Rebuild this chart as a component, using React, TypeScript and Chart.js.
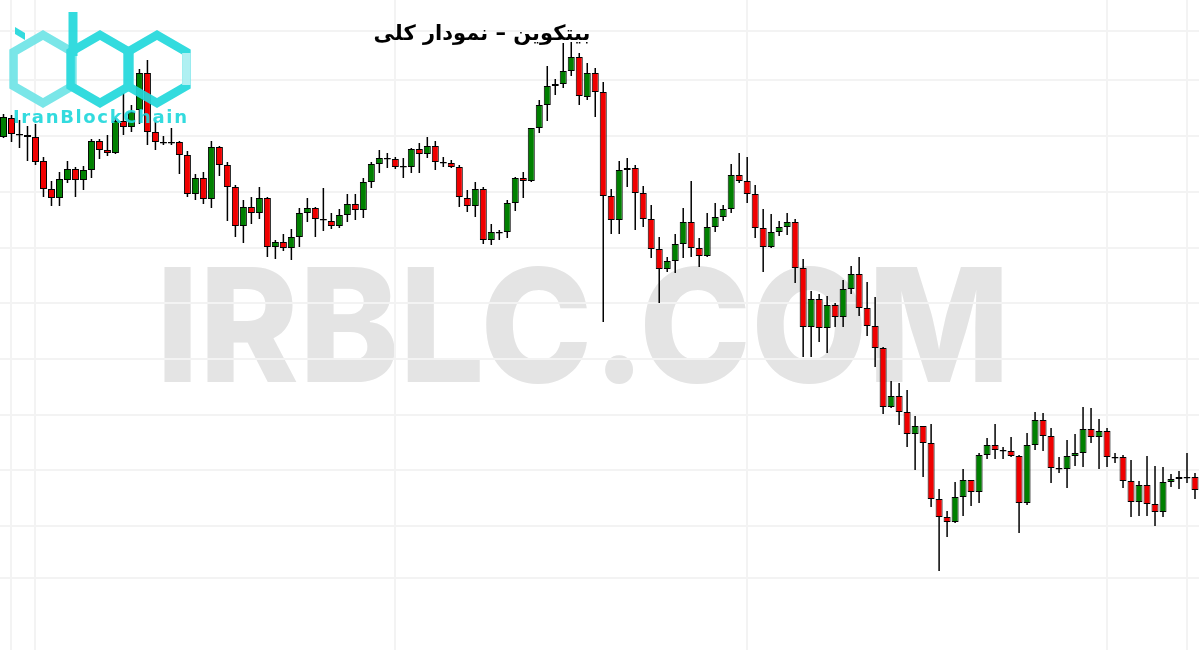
import React, { useEffect, useRef } from 'react';
import { Chart, registerables } from 'chart.js';

Chart.register(...registerables);

// Candle values (arbitrary price units, no axis labels shown)
const openP = [
  463, 482, 466, 465, 463, 439, 411, 402, 420, 431,
  420, 430, 459, 450, 447, 479, 473, 490, 527, 468,
  458, 458, 458, 445, 406, 422, 401, 453, 435, 413,
  374, 393, 387, 402, 353, 358, 352, 363, 387, 392,
  381, 379, 374, 385, 396, 390, 418, 436, 442, 441,
  434, 433, 451, 446, 454, 438, 437, 433, 402, 394,
  411, 360, 368, 368, 397, 422, 419, 472, 495, 514,
  516, 529, 543, 503, 527, 508, 404, 380, 430, 432,
  407, 381, 351, 331, 339, 356, 378, 352, 344, 373,
  383, 391, 425, 419, 406, 372, 353, 368, 373, 378,
  332, 273, 301, 272, 295, 283, 311, 326, 292, 274,
  252, 193, 204, 188, 166, 174, 157, 101, 83, 78,
  103, 120, 108, 145, 155, 150, 149, 144, 97, 155,
  180, 164, 132, 131, 144, 147, 171, 163, 169, 143,
  143, 119, 98, 115, 96, 88, 118, 121, 123, 123,
];

const highP = [
  486, 485, 480, 474, 476, 443, 419, 428, 439, 433,
  434, 461, 461, 465, 482, 507, 495, 531, 540, 478,
  464, 472, 459, 449, 426, 428, 459, 454, 438, 415,
  400, 403, 413, 403, 360, 366, 371, 392, 402, 393,
  412, 387, 391, 406, 406, 422, 438, 450, 447, 443,
  442, 452, 457, 463, 459, 443, 440, 435, 410, 418,
  413, 376, 370, 400, 423, 428, 472, 500, 534, 521,
  557, 558, 547, 537, 532, 518, 411, 439, 442, 435,
  414, 395, 363, 343, 366, 392, 419, 362, 387, 397,
  395, 436, 447, 443, 415, 391, 386, 379, 387, 381,
  341, 309, 306, 304, 297, 320, 334, 343, 318, 303,
  253, 219, 217, 210, 184, 174, 176, 111, 89, 118,
  131, 120, 147, 162, 176, 153, 163, 145, 167, 188,
  187, 172, 143, 160, 166, 193, 192, 181, 172, 147,
  145, 140, 119, 144, 134, 133, 126, 129, 147, 127,
];

const lowP = [
  462, 458, 452, 439, 435, 403, 394, 394, 417, 403,
  410, 422, 441, 444, 446, 465, 468, 476, 455, 450,
  455, 455, 426, 403, 400, 396, 392, 424, 379, 363,
  357, 376, 381, 343, 341, 349, 340, 353, 378, 363,
  369, 371, 372, 378, 380, 382, 412, 427, 432, 431,
  422, 427, 427, 442, 430, 433, 432, 393, 388, 383,
  356, 355, 360, 362, 389, 402, 418, 467, 479, 505,
  512, 524, 495, 500, 483, 278, 366, 366, 413, 370,
  373, 342, 297, 328, 327, 342, 343, 333, 343, 368,
  379, 387, 417, 397, 362, 328, 352, 364, 365, 317,
  243, 243, 258, 247, 273, 273, 306, 284, 264, 233,
  186, 192, 175, 153, 130, 123, 93, 29, 63, 77,
  84, 94, 97, 141, 141, 141, 143, 67, 95, 150,
  149, 117, 127, 112, 134, 133, 157, 131, 133, 137,
  112, 83, 84, 84, 74, 83, 113, 111, 117, 101,
];

const closeP = [
  483, 466, 464.5, 463, 438, 411, 402, 421, 431, 420,
  430, 459, 450, 447, 479, 473, 488, 527, 468, 458,
  456.5, 456.5, 445, 406, 422, 401, 453, 435, 413, 374,
  393, 387, 402, 353, 358, 352, 363, 387, 392, 381,
  379.5, 374, 385, 396, 390, 418, 436, 442, 440.5, 433,
  432.5, 451, 446, 454, 438, 436.5, 433, 403, 394, 411,
  360, 368, 366.5, 397, 422, 419, 472, 495, 514, 516,
  529, 543, 504, 527, 508, 404, 380, 430, 432, 407,
  381, 351, 331, 339, 356, 378, 352, 344, 373, 383,
  391, 425, 419, 406, 372, 353, 368, 373, 378, 332,
  273, 301, 272, 295, 283, 311, 326, 292, 274, 252,
  193, 204, 188, 166, 174, 157, 101, 83, 78, 103,
  120, 108, 145, 155, 150, 148.5, 144, 97, 155, 180,
  164, 132, 130.5, 144, 147, 171, 163, 169, 143, 141.5,
  119, 98, 115, 96, 88, 118, 121, 123, 121.5, 110,
];

// Faint grid lines (price levels and candle indices)
const gridPrices = [22, 74, 130, 185, 241, 297, 352, 408, 464, 520, 569];
const gridCandles = [1, 4, 49, 93, 138, 148];

const TITLE = 'بیتکوین – نمودار کلی';
const BRAND = 'IranBlockChain';
const WATERMARK = 'IRBLC.COM';

const UP = '#008000';
const DOWN = '#f00000';
const GRID = '#f3f3f3';

function hexPoints(cx: number, cy: number, r: number): string {
  return [-90, -30, 30, 90, 150, 210]
    .map((a) => {
      const t = (a * Math.PI) / 180;
      return `${(cx + r * Math.cos(t)).toFixed(2)},${(cy + r * Math.sin(t)).toFixed(2)}`;
    })
    .join(' ');
}

export default function App() {
  const ref = useRef<HTMLCanvasElement | null>(null);

  useEffect(() => {
    if (!ref.current) return;
    const bodyColors = openP.map((o, i) => (closeP[i] > o ? UP : DOWN));
    const chart = new Chart(ref.current, {
      type: 'bar',
      data: {
        labels: openP.map((_, i) => String(i + 1)),
        datasets: [
          {
            label: 'body',
            data: openP.map((o, i) => [o, closeP[i]]) as any,
            backgroundColor: bodyColors,
            borderColor: '#000000',
            borderWidth: 1,
            borderSkipped: false,
            barThickness: 7,
            grouped: false,
            inflateAmount: 0,
            order: 0,
          } as any,
          {
            label: 'wick',
            data: lowP.map((l, i) => [l, highP[i]]) as any,
            backgroundColor: '#000000',
            borderWidth: 0,
            barThickness: 1.5,
            grouped: false,
            inflateAmount: 0,
            order: 1,
          } as any,
        ],
      },
      options: {
        responsive: false,
        animation: false,
        devicePixelRatio: 1,
        layout: { padding: { left: 0.5, right: -0.5, top: 0, bottom: 0 } },
        plugins: {
          legend: { display: false },
          tooltip: { enabled: false },
          title: { display: false },
        },
        scales: {
          x: {
            type: 'category',
            offset: true,
            ticks: { display: false },
            grid: { offset: false, drawTicks: false, color: GRID, lineWidth: 2 },
            border: { display: false },
            afterBuildTicks: (s: any) => {
              s.ticks = gridCandles.map((v) => ({ value: v }));
            },
          },
          y: {
            type: 'linear',
            min: -50,
            max: 600,
            ticks: { display: false },
            grid: { drawTicks: false, color: GRID, lineWidth: 2 },
            border: { display: false },
            afterBuildTicks: (s: any) => {
              s.ticks = gridPrices.map((v) => ({ value: v }));
            },
          },
        },
      } as any,
    });
    return () => chart.destroy();
  }, []);

  return (
    <div
      style={{
        position: 'fixed',
        left: 0,
        top: 0,
        width: 1200,
        height: 650,
        background: '#ffffff',
        overflow: 'hidden',
      }}
    >
      <svg width={1200} height={650} style={{ position: 'absolute', left: 0, top: 0 }}>
        <text
          x={156}
          y={382}
          fontFamily="Inter, 'Open Sans', 'DejaVu Sans', sans-serif"
          fontWeight={800}
          fontSize={158}
          fill="#e4e4e4"
          textLength={854}
          lengthAdjust="spacingAndGlyphs"
        >
          {WATERMARK}
        </text>
      </svg>
      <canvas
        ref={ref}
        width={1200}
        height={650}
        style={{ position: 'absolute', left: -1, top: 0 }}
      />
      <svg width={200} height={130} style={{ position: 'absolute', left: 0, top: 0, opacity: 0.92 }}>
        <g fill="none" strokeWidth={8.5} strokeLinejoin="miter">
          <polygon points={hexPoints(43, 69, 34)} stroke="#6fe4e7" />
          <polygon points={hexPoints(100, 69, 34)} stroke="#22d8dc" />
          <polygon points={hexPoints(157, 69, 34)} stroke="#22d8dc" />
        </g>
        <line x1={186.4} y1={53} x2={186.4} y2={85} stroke="#a9eff1" strokeWidth={8.5} />
        <line x1={73} y1={12} x2={73} y2={56} stroke="#22d8dc" strokeWidth={9} />
        <polygon points="15,27 25,33 25,40 15,34" fill="#22d8dc" />
        <text
          x={13}
          y={123}
          fontFamily="'DejaVu Sans', sans-serif"
          fontWeight="bold"
          fontSize={18}
          fill="#22d8dc"
          textLength={174}
          lengthAdjust="spacing"
        >
          {BRAND}
        </text>
      </svg>
      <div
        style={{
          position: 'absolute',
          left: 362,
          top: 20,
          width: 240,
          textAlign: 'center',
          direction: 'rtl',
          fontFamily: "'DejaVu Sans', sans-serif",
          fontWeight: 'bold',
          fontSize: 21,
          lineHeight: '26px',
          color: '#000000',
          whiteSpace: 'nowrap',
        }}
      >
        {TITLE}
      </div>
    </div>
  );
}
